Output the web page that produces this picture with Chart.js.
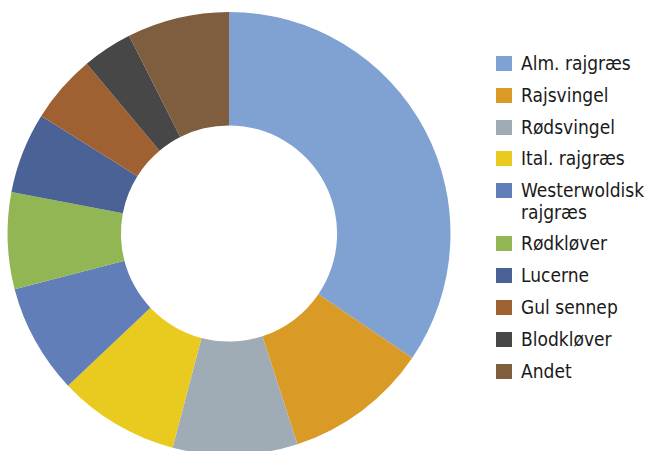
<!DOCTYPE html>
<html>
<head>
<meta charset="utf-8">
<script src="https://cdn.jsdelivr.net/npm/chart.js@4"></script>
<style>
  html, body { margin: 0; padding: 0; background: #fff; width: 649px; height: 451px; overflow: hidden; position: relative; }
  #wrap { position: absolute; left: 0; top: 0; width: 458px; height: 467px; }
  #legend { position: absolute; left: 496px; top: 53px; font-family: "Liberation Sans Narrow", "DejaVu Sans Condensed", "Liberation Sans", sans-serif; font-size: 19px; color: #1a1a1a; }
  .item { display: flex; align-items: flex-start; margin-bottom: 10.3px; line-height: 21.5px; }
  .box { width: 16px; height: 15px; margin-top: 3px; margin-right: 9px; flex: none; }
</style>
</head>
<body>
<div id="wrap"><canvas id="c"></canvas></div>
<div id="legend"></div>
<script>
const categories = ["Alm. rajgræs", "Rajsvingel", "Rødsvingel", "Ital. rajgræs", "Westerwoldisk rajgræs", "Rødkløver", "Lucerne", "Gul sennep", "Blodkløver", "Andet"];
const legendLines = [["Alm. rajgræs"], ["Rajsvingel"], ["Rødsvingel"], ["Ital. rajgræs"], ["Westerwoldisk", "rajgræs"], ["Rødkløver"], ["Lucerne"], ["Gul sennep"], ["Blodkløver"], ["Andet"]];
const values = [34.5, 10.5, 9.1, 8.85, 8.0, 7.05, 5.9, 5.0, 3.65, 7.45];
const colors = ["#7FA2D2", "#DA9A26", "#A0ACB5", "#E8CB1E", "#617EB8", "#92B654", "#4A6295", "#A06132", "#474747", "#7E5E3E"];

new Chart(document.getElementById('c'), {
  type: 'doughnut',
  data: {
    labels: categories,
    datasets: [{ data: values, backgroundColor: colors, borderWidth: 0 }]
  },
  options: {
    responsive: true,
    maintainAspectRatio: false,
    animation: false,
    cutout: '48.8%',
    layout: { padding: { top: 12, bottom: 12, left: 7, right: 7 } },
    plugins: { legend: { display: false }, tooltip: { enabled: false } }
  }
});

const lg = document.getElementById('legend');
legendLines.forEach((lines, i) => {
  const it = document.createElement('div');
  it.className = 'item';
  const b = document.createElement('div');
  b.className = 'box';
  b.style.background = colors[i];
  const t = document.createElement('div');
  t.innerHTML = lines.join('<br>');
  it.appendChild(b); it.appendChild(t);
  lg.appendChild(it);
});
</script>
</body>
</html>
